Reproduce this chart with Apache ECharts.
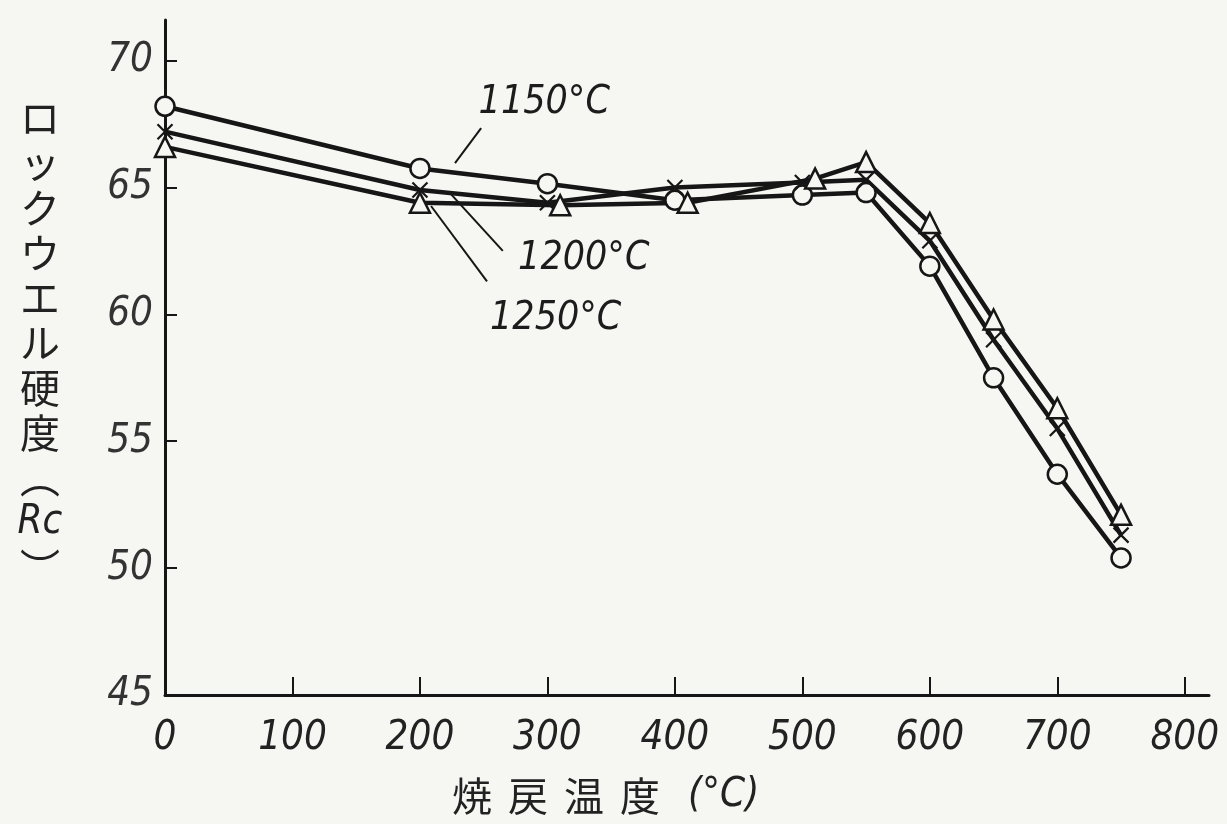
<!DOCTYPE html>
<html><head><meta charset="utf-8">
<script src="https://cdn.jsdelivr.net/npm/echarts@6/dist/echarts.min.js"></script>
<style>html,body{margin:0;padding:0;background:#f6f6f3}#c{width:1227px;height:824px}</style>
</head><body><div id="c"></div>
<script>
// ---- data ----
const seriesNames = ['1150°C', '1200°C', '1250°C'];
const temps1150 = [0, 200, 300, 400, 500, 550, 600, 650, 700, 750];
const hard1150  = [68.2, 65.75, 65.15, 64.5, 64.7, 64.8, 61.9, 57.5, 53.7, 50.4];
const temps1200 = [0, 200, 300, 400, 500, 550, 600, 650, 700, 750];
const hard1200  = [67.2, 64.9, 64.4, 65.0, 65.2, 65.3, 62.9, 59.0, 55.5, 51.3];
const temps1250 = [0, 200, 310, 410, 510, 550, 600, 650, 700, 750];
const hard1250  = [66.6, 64.4, 64.3, 64.4, 65.35, 66.0, 63.6, 59.8, 56.3, 52.1];
const xTicks = [0, 100, 200, 300, 400, 500, 600, 700, 800];
const yTicks = [45, 50, 55, 60, 65, 70];
const yTitleChars = ['ロ', 'ッ', 'ク', 'ウ', 'エ', 'ル', '硬', '度', '︵', 'Rc', '︶'];
const xTitleChars = ['焼', '戻', '温', '度'];
const xTitleUnit = '(°C)';

const ink = '#161616';
const bg = '#f6f6f3';
const narrow = "'Liberation Sans Narrow','DejaVu Sans Condensed',sans-serif";
const cjk = "'Noto Sans CJK JP',sans-serif";

const zip = (xs, ys) => xs.map((x, i) => [x, ys[i]]);
const crossPath = 'path://M0,0L10,10M10,0L0,10';

const chart = echarts.init(document.getElementById('c'), null, {renderer: 'canvas'});

function mkSeries(name, data, symbol, size, bw) {
  return {
    type: 'line', name, data, symbol, symbolSize: size, showAllSymbol: true,
    lineStyle: {color: ink, width: 4.5},
    itemStyle: {color: bg, borderColor: ink, borderWidth: bw},
    emphasis: {disabled: true}, animation: false, z: 3
  };
}

chart.setOption({
  backgroundColor: bg,
  animation: false,
  grid: {left: 165, right: 18, top: 20, bottom: 129, containLabel: false},
  xAxis: {
    type: 'value', min: 0, max: 819,
    axisLine: {show: true, lineStyle: {color: ink, width: 3}},
    axisTick: {show: true, inside: true, length: 18, lineStyle: {color: ink, width: 2}, customValues: xTicks},
    axisLabel: {show: true, customValues: xTicks, margin: 24, color: '#222', fontSize: 40,
      fontStyle: 'italic', fontFamily: narrow},
    splitLine: {show: false}
  },
  yAxis: {
    type: 'value', min: 45, max: 71.6,
    axisLine: {show: true, lineStyle: {color: ink, width: 3}},
    axisTick: {show: true, inside: true, length: 12, lineStyle: {color: ink, width: 2}, customValues: yTicks},
    axisLabel: {show: true, customValues: yTicks, margin: 12, color: '#333', fontSize: 40,
      fontStyle: 'italic', fontFamily: narrow},
    splitLine: {show: false}
  },
  series: [
    mkSeries(seriesNames[0], zip(temps1150, hard1150), 'circle', 19, 2.5),
    mkSeries(seriesNames[1], zip(temps1200, hard1200), crossPath, 15, 2.2),
    mkSeries(seriesNames[2], zip(temps1250, hard1250), 'triangle', 20, 2.5)
  ]
});

// annotations (label anchor + leader line, in data coordinates)
const annotations = [
  {text: seriesNames[0], at: [246, 67.55], line: [[248, 67.34], [227.5, 65.96]]},
  {text: seriesNames[1], at: [277, 61.4], line: [[265, 62.5], [223.6, 64.78]]},
  {text: seriesNames[2], at: [255, 59.05], line: [[252.6, 61.3], [208.7, 64.27]]}
];
const px = p => chart.convertToPixel({gridIndex: 0}, p);
const g = [];
annotations.forEach(a => {
  const p = px(a.at);
  g.push({type: 'text', x: p[0], y: p[1], z: 10,
    style: {text: a.text, fill: '#1c1c1c', font: 'italic 39px ' + narrow, verticalAlign: 'bottom', align: 'left'}});
  const l0 = px(a.line[0]), l1 = px(a.line[1]);
  g.push({type: 'line', z: 10, shape: {x1: l0[0], y1: l0[1], x2: l1[0], y2: l1[1]},
    style: {stroke: ink, lineWidth: 2}});
});
// y axis title (vertical)
yTitleChars.forEach((ch, i) => {
  const latin = ch === 'Rc';
  g.push({type: 'text', x: 40, y: 118 + i * 45, z: 10,
    style: {text: ch, fill: '#222', align: 'center', verticalAlign: 'middle',
      font: latin ? 'italic 40px ' + narrow : '40px ' + cjk}});
});
// x axis title
xTitleChars.forEach((ch, i) => {
  g.push({type: 'text', x: 472 + i * 56, y: 796, z: 10,
    style: {text: ch, fill: '#222', align: 'center', verticalAlign: 'middle', font: '40px ' + cjk}});
});
g.push({type: 'text', x: 688, y: 796, z: 10,
  style: {text: xTitleUnit, fill: '#222', align: 'left', verticalAlign: 'middle', font: 'italic 40px ' + narrow}});
chart.setOption({graphic: g});
</script>
</body></html>
